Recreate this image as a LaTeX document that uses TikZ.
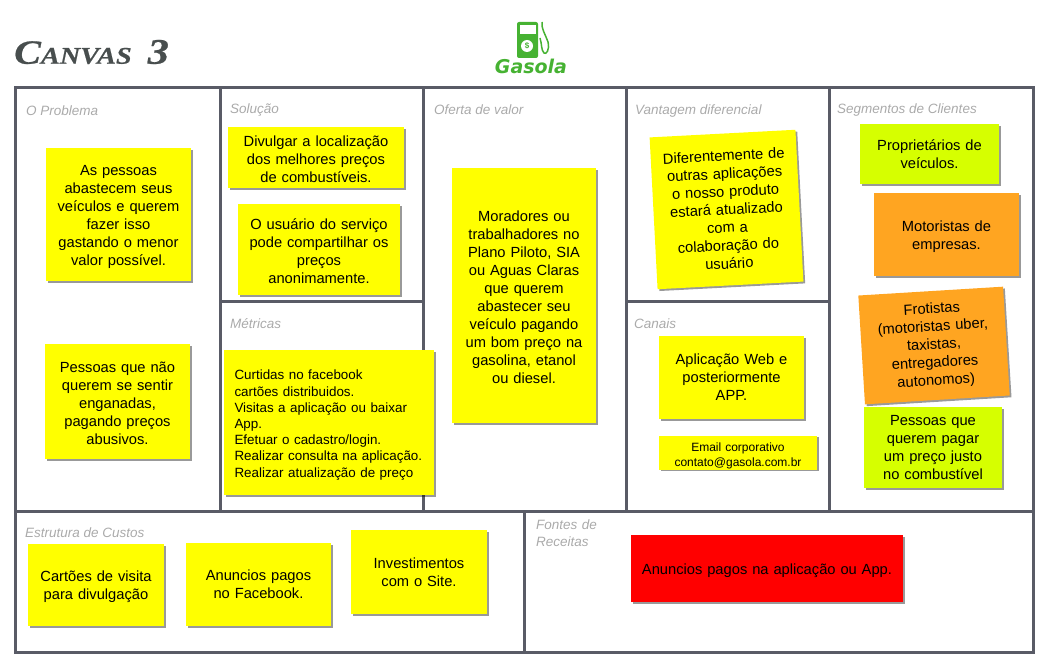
\documentclass[tikz,border=0pt]{standalone}
\usepackage{fontspec}
\setmainfont{Liberation Sans}
\newfontfamily\titlefont[FakeStretch=1.18,FakeBold=0.6]{Liberation Serif}
\newfontfamily\logofont{DejaVu Sans}
\usetikzlibrary{shadows}
\definecolor{gridgray}{RGB}{89,91,102}
\definecolor{titlegray}{RGB}{72,78,78}
\definecolor{headgray}{RGB}{170,170,170}
\definecolor{noteyellow}{RGB}{255,255,0}
\definecolor{notelime}{RGB}{214,255,0}
\definecolor{noteorange}{RGB}{255,165,33}
\definecolor{notered}{RGB}{255,0,0}
\definecolor{logogreen}{RGB}{70,178,50}
\tikzset{notesize/.style 2 args={minimum width=#1, minimum height=#2, text width=#1}}
\begin{document}
\begin{tikzpicture}[x=1pt,y=-1pt]
\tikzstyle{note}=[fill=noteyellow, inner sep=0pt, align=center, font=\fontsize{14.7}{18}\selectfont, drop shadow={shadow xshift=1.8pt, shadow yshift=-1.8pt, fill=black, opacity=0.4}]
\tikzstyle{lowered}=[execute at begin node={\rule{0pt}{15pt}}]
\tikzstyle{head}=[anchor=west, inner sep=0pt, text=headgray, font=\fontsize{13.5}{17}\selectfont\itshape]
\tikzstyle{grid}=[draw=gridgray, line width=3pt]
\useasboundingbox (0,0) rectangle (1045,663);

% frame
\draw[grid] (15,88) rectangle (1033,652);
\draw[grid] (220,88) -- (220,511);
\draw[grid] (423,88) -- (423,511);
\draw[grid] (626,88) -- (626,511);
\draw[grid] (829,88) -- (829,511);
\draw[grid] (15,511) -- (1033,511);
\draw[grid] (524,511) -- (524,652);
\draw[grid] (220,302) -- (423,302);
\draw[grid] (626,302) -- (829,302);

% title and logo
\node[anchor=west, inner sep=0pt, text=titlegray, font=\titlefont\bfseries\itshape] (title) at (14,52) {\fontsize{34}{34}\selectfont C\fontsize{24}{34}\selectfont ANVAS\hspace{16pt}\fontsize{36}{34}\selectfont 3};
\fill[logogreen, rounded corners=2pt] (517,22) rectangle (538,58);
\fill[white] (519.5,25) rectangle (535.5,34);
\node[circle, fill=white, inner sep=0pt, minimum size=12pt, text=logogreen, font=\fontsize{8}{8}\selectfont\bfseries] (dollar) at (527,46) {\$};
\draw[logogreen, line width=1.5pt] (542,22) .. controls (541,28) and (546,36) .. (548,42) .. controls (550,50) and (546,55) .. (544,53) .. controls (541,50) and (542,44) .. (540,38);
\node[inner sep=0pt, text=logogreen, font=\logofont\fontsize{19}{19}\selectfont\bfseries\itshape] (gasola) at (531,66) {Gasola};

% headings
\node[head] (problema) at (26,110.5) {O Problema};
\node[head] (solucao) at (230,110) {Solução};
\node[head] (oferta) at (434,110) {Oferta de valor};
\node[head] (vantagem) at (635,111) {Vantagem diferencial};
\node[head] (segmentos) at (837,110) {Segmentos de Clientes};
\node[head] (metricas) at (230,324) {Métricas};
\node[head] (canais) at (634,324) {Canais};
\node[head] (custos) at (25,533) {Estrutura de Custos};
\node[head, align=left, text width=70pt] (receitas) at (536,533.5) {Fontes de\\Receitas};

% notes
\node[note, lowered, notesize={145pt}{133pt}] (prob1) at (118.5,214.5) {As pessoas\\abastecem seus\\veículos e querem\\fazer isso\\gastando o menor\\valor possível.};
\node[note, lowered, notesize={145pt}{115pt}] (prob2) at (117.5,401.5) {Pessoas que não\\querem se sentir\\enganadas,\\pagando preços\\abusivos.};
\node[note, lowered, notesize={176pt}{61pt}] (sol1) at (316,157.5) {Divulgar a localização\\dos melhores preços\\de combustíveis.};
\node[note, lowered, notesize={162pt}{91pt}] (sol2) at (319,249.5) {O usuário do serviço\\pode compartilhar os\\preços\\anonimamente.};
\node[note, lowered, minimum width=210pt, minimum height=145pt, align=left, text width=189pt, font=\fontsize{13.4}{16.2}\selectfont] (metr) at (329,422.5) {Curtidas no facebook\\cartões distribuidos.\\Visitas a aplicação ou baixar\\App.\\Efetuar o cadastro/login.\\Realizar consulta na aplicação.\\Realizar atualização de preço};
\node[note, lowered, notesize={144pt}{255pt}] (ofer) at (524,295.5) {Moradores ou\\trabalhadores no\\Plano Piloto, SIA\\ou Aguas Claras\\que querem\\abastecer seu\\veículo pagando\\um bom preço na\\gasolina, etanol\\ou diesel.};
\node[note, notesize={146pt}{152pt}, rotate=3] (vant) at (726.5,209.5) {Diferentemente de\\outras aplicações\\o nosso produto\\estará atualizado\\com a\\colaboração do\\usuário};
\node[note, notesize={145pt}{83pt}] (can1) at (731.5,377.5) {Aplicação Web e\\posteriormente\\APP.};
\node[note, lowered, notesize={158pt}{34pt}, font=\fontsize{12}{15.5}\selectfont] (can2) at (738,452.5) {Email corporativo\\contato@gasola.com.br};
\node[note, fill=notelime, notesize={139pt}{60pt}] (seg1) at (929.5,154) {Proprietários de\\veículos.};
\node[note, lowered, fill=noteorange, notesize={145pt}{83pt}] (seg2) at (946.5,234.5) {Motoristas de\\empresas.};
\node[note, fill=noteorange, notesize={145pt}{109pt}, rotate=3.5] (seg3) at (934,345.5) {Frotistas\\(motoristas uber,\\taxistas,\\entregadores\\autonomos)};
\node[note, fill=notelime, notesize={138pt}{81pt}] (seg4) at (933,447.5) {Pessoas que\\querem pagar\\um preço justo\\no combustível};
\node[note, lowered, notesize={136pt}{82pt}] (cust1) at (96,585) {Cartões de visita\\para divulgação};
\node[note, notesize={145pt}{83pt}] (cust2) at (258.5,584.5) {Anuncios pagos\\no Facebook.};
\node[note, notesize={136pt}{84pt}] (cust3) at (419,572) {Investimentos\\com o Site.};
\node[note, lowered, fill=notered, notesize={272pt}{67pt}] (rec1) at (767,568.5) {Anuncios pagos na aplicação ou App.};
\end{tikzpicture}
\end{document}
